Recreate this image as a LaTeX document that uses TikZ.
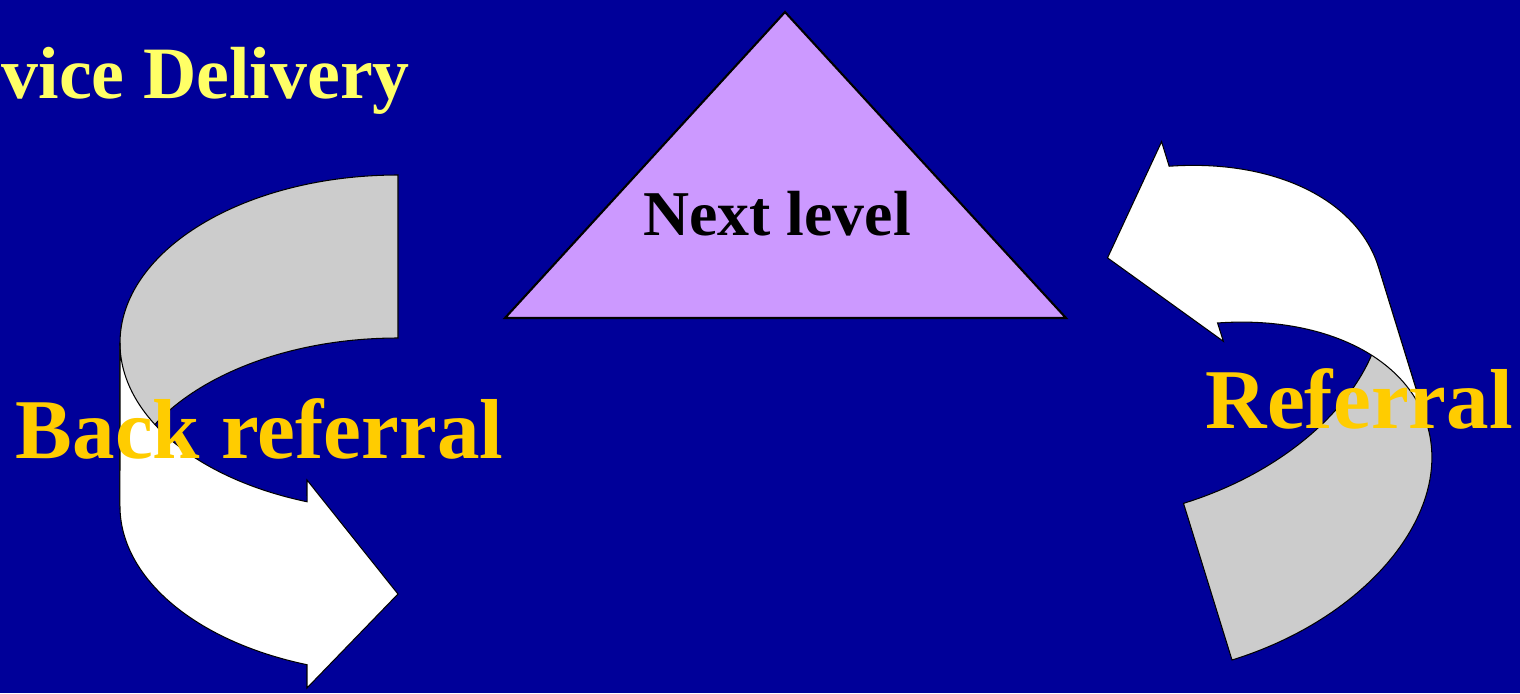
\documentclass[tikz,border=0pt]{standalone}
\usepackage{fontspec}
\setmainfont{Liberation Serif}
\definecolor{bgblue}{HTML}{000099}
\definecolor{lilac}{HTML}{CC99FF}
\definecolor{backgray}{HTML}{CCCCCC}
\definecolor{titleyellow}{HTML}{FFFF66}
\definecolor{labelgold}{HTML}{FFCC00}
\begin{document}
\begin{tikzpicture}[x=0.01cm,y=-0.01cm,
  outl/.style={draw=black,line width=0.3pt},
  bandback/.style={outl,fill=backgray},
  bandfront/.style={outl,fill=white},
  biglabel/.style={anchor=base west,inner sep=0pt,text=labelgold,font=\fontsize{24.2}{29}\selectfont\bfseries}]
\useasboundingbox (0,0) rectangle (1520,693);
\fill[bgblue] (0,0) rectangle (1520,693);

% title fragment
\node[anchor=base west,inner sep=0pt,text=titleyellow,font=\fontsize{21}{25}\selectfont\bfseries] (title) at (1,98) {vice Delivery};

% triangle
\draw[fill=lilac,draw=black,line width=0.6pt] (785,12) -- (1066,318) -- (505,318) -- cycle;
\node[anchor=base,inner sep=0pt,font=\fontsize{18.15}{22}\selectfont\bfseries] (next) at (777,235) {Next level};

% left curved arrow
\begin{scope}[shift={(398,175)}]
  \draw[bandback] (0,0) arc[start angle=270,end angle=180,x radius=278,y radius=168]
    -- (-278,331) arc[start angle=180,end angle=270,x radius=278,y radius=168] -- cycle;
  \draw[bandfront] (-278,168) arc[start angle=180,end angle=109.1,x radius=278,y radius=168]
    -- (-91,305) -- (0,419) -- (-91,513) -- (-91,489.7)
    arc[start angle=109.1,end angle=180,x radius=278,y radius=168] -- cycle;
\end{scope}

% right curved arrow
\begin{scope}[shift={(1232,660)},rotate=-162.8]
  \draw[bandback] (0,0) arc[start angle=270,end angle=180,x radius=256,y radius=168]
    -- (-256,332) arc[start angle=180,end angle=270,x radius=256,y radius=168] -- cycle;
  \draw[bandfront] (-256,168) arc[start angle=180,end angle=109.6,x radius=256,y radius=168]
    -- (-86,307) -- (0,421) -- (-86,516) -- (-86,490.3)
    arc[start angle=109.6,end angle=180,x radius=256,y radius=168] -- cycle;
\end{scope}

\node[biglabel] (back) at (15,458) {Back referral};
\node[biglabel] (ref) at (1205,428) {Referral};
\end{tikzpicture}
\end{document}
